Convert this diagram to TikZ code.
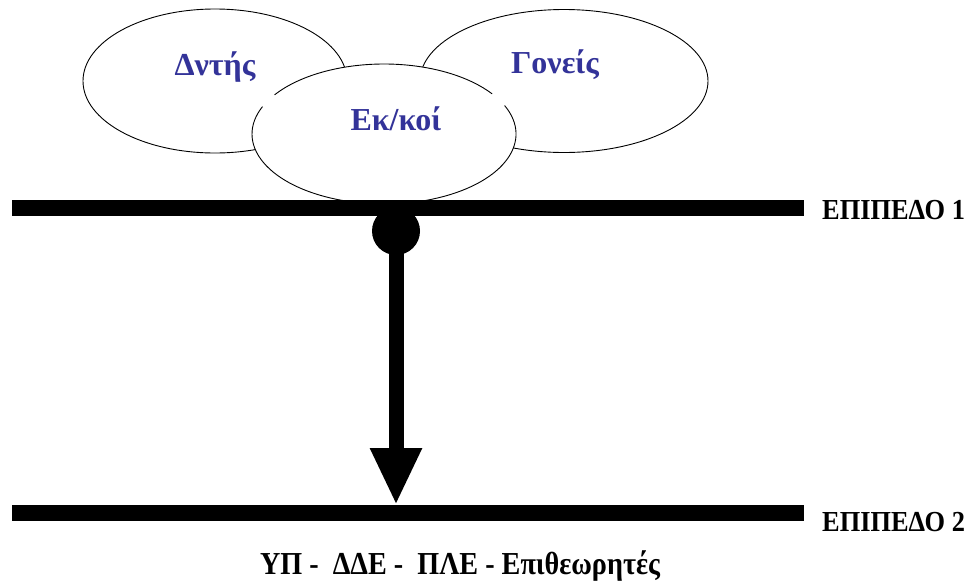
\documentclass[tikz,border=0pt]{standalone}
\usepackage{fontspec}
\setmainfont{Liberation Serif}
\usetikzlibrary{shapes.geometric,arrows.meta}
\definecolor{bubbletext}{RGB}{51,51,153}
\begin{document}
\begin{tikzpicture}[x=1pt,y=-1pt,
  bubble/.style={ellipse, draw=black, line width=0.9pt, fill=white, inner sep=0pt},
  bubblefill/.style={ellipse, fill=white, inner sep=0pt},
  rim/.style={line width=0.9pt},
  bubblename/.style={font=\fontsize{32}{36}\selectfont\bfseries, text=bubbletext, anchor=base, inner sep=0pt},
  level/.style={line width=16pt},
  levellabel/.style={font=\fontsize{29}{33}\selectfont\bfseries, anchor=base west, inner sep=0pt},
  hubdot/.style={circle, fill=black, minimum size=48pt, inner sep=0pt},
  drop/.style={line width=15pt, -{Triangle[width=48pt,length=57pt]}},
  footer/.style={font=\fontsize{32}{36}\selectfont\bfseries, anchor=base, inner sep=0pt},
]
\useasboundingbox[fill=white] (0,0) rectangle (969,587);

% the three overlapping groups
\node[bubble, minimum width=264pt, minimum height=144pt] (dntis) at (215,81) {};
\node[bubble, minimum width=288pt, minimum height=143pt] (goneis) at (564,81) {};
\node[bubblefill, minimum width=264pt, minimum height=140pt] (ekkoi) at (384,134) {};
\draw[rim] ([shift={(214:132 and 70)}]ekkoi.center)
  arc[start angle=214, end angle=325, x radius=132, y radius=70];
\draw[rim] ([shift={(336:132 and 70)}]ekkoi.center)
  arc[start angle=336, end angle=563, x radius=132, y radius=70];

\node[bubblename] (dntis-name) at (215,75) {Δντής};
\node[bubblename] (goneis-name) at (555,73) {Γονείς};
\node[bubblename] (ekkoi-name) at (396,130) {Εκ/κοί};

% the two levels
\coordinate (lev1w) at (12,208);
\coordinate (lev1e) at (804,208);
\coordinate (lev2w) at (12,513);
\coordinate (lev2e) at (804,513);
\draw[level] (lev1w) -- (lev1e);
\draw[level] (lev2w) -- (lev2e);
\node[levellabel] (lev1-label) at (822,219) {\scalebox{0.91}[1]{ΕΠΙΠΕΔΟ 1}};
\node[levellabel] (lev2-label) at (822,531) {\scalebox{0.91}[1]{ΕΠΙΠΕΔΟ 2}};

% flow from level 1 down to level 2
\node[hubdot] (hub) at (396,231) {};
\coordinate (tip) at (396,505);
\draw[drop] (hub.center) -- (tip);

\node[footer] (bodies) at (460,574)
  {\scalebox{0.88}[1]{ΥΠ -\ \ ΔΔΕ -\ \ ΠΛΕ - Επιθεωρητές}};
\end{tikzpicture}
\end{document}
